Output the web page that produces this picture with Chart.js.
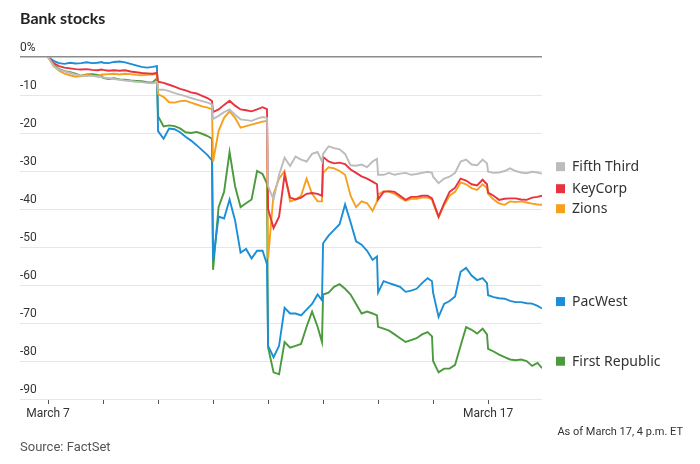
<!DOCTYPE html>
<html>
<head>
<meta charset="utf-8">
<script src="https://cdn.jsdelivr.net/npm/chart.js@4.4.1/dist/chart.umd.min.js"></script>
<style>
  body { margin: 0; background: #fff; }
  #wrap { position: relative; width: 700px; height: 464px; overflow: hidden; }
  #title { position: absolute; left: 20px; top: 8px; font: bold 16px Lato, "Noto Sans", sans-serif; color: #222; }
  #asof { position: absolute; right: 17px; top: 425px; font: 11px "Liberation Sans Narrow", Roboto, sans-serif; color: #333; }
  #source { position: absolute; left: 20px; top: 439px; font: 13px "Liberation Sans Narrow", Roboto, sans-serif; color: #555; }
  canvas { position: absolute; left: 0; top: 0; }
</style>
</head>
<body>
<div id="wrap">
  <canvas id="myChart" width="700" height="464"></canvas>
  <div id="title">Bank stocks</div>
  <div id="asof">As of March 17, 4 p.m. ET</div>
  <div id="source">Source: FactSet</div>
</div>
<script>
// trading days shown on the axis (index = day number)
var days = ['March 7', 'March 8', 'March 9', 'March 10', 'March 13', 'March 14', 'March 15', 'March 16', 'March 17'];
var tickLabels = ['March 7', '', '', '', '', '', '', '', 'March 17'];
// sample times inside each trading day (fraction of the day)
var intraday = [0, 0.1, 0.2, 0.3, 0.4, 0.5, 0.6, 0.7, 0.8, 0.9, 0.98];

var seriesNames = ['Fifth Third', 'KeyCorp', 'Zions', 'PacWest', 'First Republic'];
var seriesColors = ['#bcbcbc', '#e8333e', '#f6a01e', '#1b8fd6', '#4b9a3d'];

// % change since March 7 open, 11 samples per day
var fifthThird = [
  0, -2.2, -3.4, -3.8, -4.2, -4.6, -4.9, -5.0, -4.9, -5.2, -5.3,
  -5.4, -5.6, -5.8, -6.0, -6.2, -6.3, -6.5, -6.6, -6.8, -6.9, -6.6,
  -8.6, -8.6, -9.0, -9.5, -9.9, -10.3, -10.8, -11.2, -11.6, -12.0, -12.5,
  -16.3, -15.5, -14.5, -13.8, -15.2, -16.4, -16.6, -16.8, -16.2, -15.8, -16.0,
  -34, -37.5, -31, -26.5, -28.7, -26.2, -27, -27.5, -25.5, -25, -27.5,
  -25.5, -23.5, -24, -24.3, -25.5, -28.5, -28.6, -28.3, -29, -27.5, -26.8,
  -31, -31, -30.5, -31, -30.7, -30.5, -31, -30.8, -30.5, -30.2, -30.5,
  -31.5, -33.2, -32, -31.5, -30.5, -27.5, -27, -28.3, -28.5, -27, -28,
  -30.2, -30.5, -30.4, -30, -29.3, -30, -30.4, -30.6, -30.2, -30.4, -30.7
];
var keyCorp = [
  0, -1.6, -2.4, -2.8, -3.0, -3.2, -3.3, -3.2, -3.4, -3.5, -3.3,
  -3.4, -3.6, -3.5, -3.6, -3.5, -3.8, -4.0, -4.2, -4.3, -4.4, -4.2,
  -6.5, -6.8, -7.3, -7.8, -8.4, -8.8, -9.3, -9.6, -10.2, -10.8, -11.6,
  -14.5, -13.8, -12.6, -11.5, -12.8, -13.8, -14.0, -14.3, -13.8, -13.2, -13.7,
  -40, -45, -42, -31, -37, -37.5, -37, -36, -35.8, -36, -36.5,
  -26.3, -27.5, -28, -27.8, -28.2, -29.6, -30.5, -31.4, -32, -32.8, -33.5,
  -37.5, -35.5, -35.3, -35.5, -36.5, -37.6, -36.8, -36.8, -36.5, -36.5, -37.2,
  -38, -42, -38.5, -35.5, -34.4, -32, -32.5, -33.5, -33.8, -32.3, -33.5,
  -35.7, -36.5, -37.6, -37.3, -37.2, -37.2, -37.5, -37.6, -37, -36.8, -36.5
];
var zions = [
  0, -2.4, -3.6, -4.4, -4.8, -5.2, -5.0, -4.7, -4.9, -5.0, -4.6,
  -4.6, -4.5, -4.4, -4.6, -4.4, -4.5, -4.7, -4.8, -4.7, -4.6, -4.3,
  -9.8, -10.5, -11.9, -12.0, -11.6, -11.5, -12.0, -12.5, -13.0, -13.3, -13.8,
  -27.5, -19.5, -16.0, -14.3, -16.0, -18.6, -18.2, -17.8, -17.4, -17.0, -16.8,
  -53, -36, -32, -30, -38, -37.5, -36.5, -32, -36, -38, -38,
  -30.5, -29, -29.3, -30, -31, -36.5, -39.5, -38, -38.5, -40.5, -38,
  -36.2, -35.3, -35.5, -36, -37, -37.8, -37.3, -37.3, -37, -37, -37.5,
  -38.5, -42.2, -39, -36.5, -35.5, -33, -33.5, -34.5, -35, -33.5, -34.5,
  -36, -37.5, -38.5, -38.9, -38, -38.2, -38, -38.3, -38.6, -38.8, -38.9
];
var pacWest = [
  0, -1.0, -1.6, -1.8, -1.5, -1.7, -1.6, -1.4, -1.6, -1.5, -1.3,
  -1.5, -1.6, -1.3, -1.2, -1.4, -1.8, -2.2, -2.6, -2.8, -2.6, -2.4,
  -19.5, -21.5, -18.8, -19.0, -19.8, -21.0, -22.0, -23.2, -24.5, -25.8, -27.2,
  -53.5, -42.0, -42.5, -37.5, -43.0, -51.5, -50.5, -53.0, -51.0, -51.0, -54.5,
  -76, -79, -76, -66, -67.5, -67.5, -68, -66.5, -65, -62.5, -64,
  -49, -47, -45.5, -44, -38.8, -43.5, -48.5, -49.4, -51, -53.4, -52.5,
  -62, -59, -59.5, -60, -60.5, -61.8, -61.5, -61, -59.5, -58.2, -59,
  -62, -68.4, -65, -64.2, -63, -56.5, -55.5, -57.5, -58.7, -58.2, -59.5,
  -62.7, -63.2, -63.5, -63.6, -64.2, -64.5, -64.5, -64.8, -64.9, -65.5, -66.2
];
var firstRepublic = [
  0, -2.0, -3.2, -3.7, -4.0, -4.4, -5.0, -4.6, -4.5, -4.7, -5.0,
  -5.5, -5.8, -5.6, -5.9, -6.0, -6.2, -6.3, -6.4, -6.6, -6.7, -5.6,
  -15.6, -18.3, -18.0, -18.2, -18.8, -19.8, -20.0, -19.7, -20.2, -20.8, -21.5,
  -56, -39.5, -35.5, -25.0, -34.0, -39.5, -38.5, -37.5, -30.0, -30.8, -33.3,
  -76.4, -83, -83.5, -75, -76.5, -76, -75.5, -71, -67, -71, -75,
  -62.5, -62, -60.5, -59.8, -61, -62.5, -65, -67.5, -67, -67.5, -68,
  -71, -71.5, -72, -73, -74, -75, -74.5, -74, -73, -72.4, -73.5,
  -80, -83, -82, -82, -81, -76, -71.1, -71.8, -72.8, -71.5, -73,
  -76.8, -77.5, -78.3, -79, -79.6, -79.8, -79.6, -80, -81.3, -80.5, -81.9
];
var yTicks = [0, -10, -20, -30, -40, -50, -60, -70, -80, -90];

document.addEventListener('DOMContentLoaded', function() {
  var narrow = '"Liberation Sans Narrow", Roboto, sans-serif';

  function toPoints(values) {
    var pts = [];
    for (var d = 0; d < days.length; d++) {
      for (var k = 0; k < intraday.length; k++) {
        pts.push({ x: d + intraday[k], y: values[d * intraday.length + k] });
      }
    }
    return pts;
  }

  var allSeries = [fifthThird, keyCorp, zions, pacWest, firstRepublic];
  var datasets = allSeries.map(function(values, i) {
    return {
      label: seriesNames[i],
      data: toPoints(values),
      borderColor: seriesColors[i],
      backgroundColor: seriesColors[i],
      borderWidth: 1.9,
      pointRadius: 0,
      tension: 0
    };
  });

  // labels at the right end of each line, pushed apart when they collide
  var endLabels = {
    id: 'endLabels',
    afterDatasetsDraw: function(chart) {
      var ctx = chart.ctx;
      var yScale = chart.scales.y;
      var items = chart.data.datasets.map(function(ds) {
        var last = ds.data[ds.data.length - 1].y;
        return { name: ds.label, color: ds.borderColor, y: yScale.getPixelForValue(last) - 7 };
      });
      items.sort(function(a, b) { return a.y - b.y; });
      for (var i = 1; i < items.length; i++) {
        if (items[i].y - items[i - 1].y < 20) items[i].y = items[i - 1].y + 20;
      }
      var x0 = chart.chartArea.right + 14;
      ctx.save();
      ctx.font = '14px "Noto Sans", Lato, sans-serif';
      ctx.textBaseline = 'middle';
      items.forEach(function(it) {
        ctx.fillStyle = it.color;
        ctx.fillRect(x0, it.y - 4.5, 9, 9);
        ctx.fillStyle = '#333';
        ctx.fillText(it.name, x0 + 16, it.y + 0.5);
      });
      ctx.restore();
    }
  };

  var ctx = document.getElementById('myChart').getContext('2d');
  var myChart = new Chart(ctx, {
    type: 'line',
    data: { datasets: datasets },
    plugins: [endLabels],
    options: {
      responsive: false,
      animation: false,
      layout: { padding: { left: 20, right: 158, top: 57, bottom: 43 } },
      plugins: { legend: { display: false }, tooltip: { enabled: false } },
      scales: {
        x: {
          type: 'linear',
          min: -0.51,
          max: 8.98,
          afterBuildTicks: function(scale) {
            scale.ticks = days.map(function(d, i) { return { value: i }; });
          },
          afterFit: function(scale) { scale.height = 22; },
          grid: { drawOnChartArea: false, drawTicks: true, tickLength: 5, color: '#555' },
          border: { display: false },
          ticks: {
            autoSkip: false,
            maxRotation: 0,
            padding: 3,
            color: '#333',
            font: { family: narrow, size: 12 },
            callback: function(v) { return tickLabels[v] || ''; }
          }
        },
        y: {
          min: -90,
          max: 0,
          afterBuildTicks: function(scale) {
            scale.ticks = yTicks.map(function(v) { return { value: v }; });
          },
          afterFit: function(scale) { scale.width = 0; },
          grid: {
            drawTicks: false,
            color: function(c) { return c.tick && c.tick.value === 0 ? '#8c8c8c' : '#e6e6e6'; },
            lineWidth: function(c) { return c.tick && c.tick.value === 0 ? 1.6 : 1; }
          },
          border: { display: false },
          ticks: {
            mirror: true,
            padding: 0,
            labelOffset: -9,
            color: '#333',
            font: { family: narrow, size: 12 },
            callback: function(v) { return v === 0 ? '0%' : v; }
          }
        }
      }
    }
  });
});
</script>
</body>
</html>
